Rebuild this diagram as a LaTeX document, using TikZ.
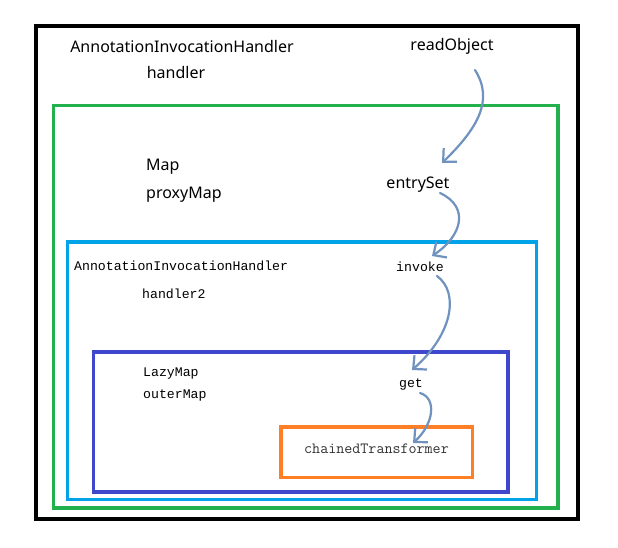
\documentclass[tikz,border=0pt]{standalone}
\usepackage{fontspec}
\setmainfont{Noto Sans}
\newfontfamily\monofont{Liberation Mono}
\usetikzlibrary{arrows.meta}
\definecolor{pgreen}{HTML}{22B14C}
\definecolor{plblue}{HTML}{00A2E8}
\definecolor{pdblue}{HTML}{3F48CC}
\definecolor{porange}{HTML}{FF7F27}
\definecolor{parrow}{HTML}{7092BE}
\tikzset{
  frame/.style={line width=3.2pt},
  sanslbl/.style={inner sep=0pt, font=\fontsize{16}{18}\selectfont},
  monolbl/.style={inner sep=0pt, font=\monofont\fontsize{13.2}{15}\selectfont},
  serifmono/.style={inner sep=0pt, font=\ttfamily\fontsize{15.6}{17}\selectfont, text=black!80},
  flow/.style={draw=parrow, line width=2.2pt, line cap=round,
    -{Straight Barb[length=10pt,width=19pt,line width=2.2pt]}},
}
\begin{document}
\begin{tikzpicture}[x=1pt,y=-1pt]
\useasboundingbox[fill=white] (0,0) rectangle (618,547);
% frames
\draw[frame, line width=4pt, black] (36,26) rectangle (578,519);
\draw[frame, line width=3.5pt, pgreen] (53.5,105.5) rectangle (558,508);
\draw[frame, plblue] (67.5,242) rectangle (536.5,499.5);
\draw[frame, pdblue] (93.5,352) rectangle (508,492);
\draw[frame, porange] (281,427) rectangle (472.5,477.5);
% labels
\node[sanslbl] (aih) at (182,46) {AnnotationInvocationHandler};
\node[sanslbl] (hdl) at (176,72) {handler};
\node[sanslbl, anchor=west] (map) at (146,167) {Map};
\node[sanslbl, anchor=west] (pmap) at (146,195) {proxyMap};
\node[sanslbl] (ro) at (452,46) {readObject};
\node[sanslbl] (es) at (418,185) {entrySet};
\node[monolbl, anchor=west] (aih2) at (74,266) {AnnotationInvocationHandler};
\node[monolbl, anchor=west] (hdl2) at (142,294) {handler2};
\node[monolbl] (inv) at (420,267) {invoke};
\node[monolbl, anchor=west] (lm) at (143,374) {LazyMap};
\node[monolbl, anchor=west] (om) at (143,395) {outerMap};
\node[monolbl] (get) at (411,384) {get};
\node[serifmono] (ct) at (376.5,449) {chainedTransformer};
% flow arrows
\coordinate (a1s) at (475,70);
\coordinate (a1e) at (442,163);
\coordinate (a2s) at (440,193);
\coordinate (a2e) at (432,256);
\coordinate (a3s) at (437,276);
\coordinate (a3e) at (412,370);
\coordinate (a4s) at (420,393);
\coordinate (a4e) at (413,443);
\draw[flow] (a1s) .. controls (494,100) and (478,128) .. (a1e);
\draw[flow] (a2s) .. controls (470,207) and (462,236) .. (a2e);
\draw[flow] (a3s) .. controls (460,293) and (452,335) .. (a3e);
\draw[flow] (a4s) .. controls (437,398) and (434,424) .. (a4e);
\end{tikzpicture}
\end{document}
